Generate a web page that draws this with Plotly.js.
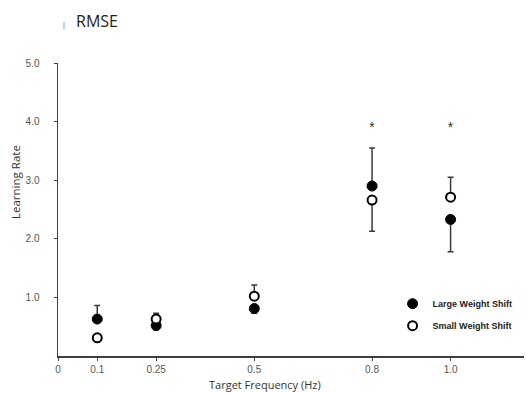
<!DOCTYPE html>
<html>
<head>
<meta charset="utf-8">
<script src="https://cdn.plot.ly/plotly-3.0.1.min.js"></script>
<style>html,body{margin:0;padding:0;background:#fff;}#chart{width:526px;height:393px;}</style>
</head>
<body>
<div id="chart"></div>
<script>
// Data
const freq = [0.1, 0.25, 0.5, 0.8, 1.0];
const xTickVals = [0, 0.1, 0.25, 0.5, 0.8, 1.0];
const xTickText = ['0', '0.1', '0.25', '0.5', '0.8', '1.0'];
const yTickVals = [1, 2, 3, 4, 5];
const yTickText = ['1.0', '2.0', '3.0', '4.0', '5.0'];

const largeShift = [0.63, 0.52, 0.81, 2.90, 2.33];
const largeErrUp = [0.23, 0, 0, 0.65, 0];
const largeErrDown = [0, 0.07, 0.08, 0, 0.55];

const smallShift = [0.31, 0.63, 1.02, 2.66, 2.71];
const smallErrUp = [0, 0.10, 0.19, 0, 0.34];
const smallErrDown = [0.06, 0, 0, 0.53, 0];

const sigFreq = [0.8, 1.0];
const sigLevel = [3.88, 3.88];
const sigMark = ['*', '*'];

const errStyle = {color: '#3a3a3a', thickness: 1.5, width: 3};

const traces = [
  {
    x: freq, y: largeShift, type: 'scatter', mode: 'markers',
    name: 'Large Weight Shift', legendgroup: 'a',
    marker: {color: '#000', size: 10, symbol: 'circle', line: {color: '#000', width: 1}},
    error_y: Object.assign({type: 'data', symmetric: false, array: largeErrUp, arrayminus: largeErrDown}, errStyle)
  },
  {
    x: freq, y: smallShift, type: 'scatter', mode: 'markers',
    name: 'Small Weight Shift', legendgroup: 'b',
    marker: {color: '#fff', size: 9, symbol: 'circle', line: {color: '#000', width: 2}},
    error_y: Object.assign({type: 'data', symmetric: false, array: smallErrUp, arrayminus: smallErrDown}, errStyle)
  },
  {
    x: sigFreq, y: sigLevel, type: 'scatter', mode: 'text', text: sigMark,
    textfont: {family: 'Liberation Sans, sans-serif', size: 14, color: '#333'},
    showlegend: false, hoverinfo: 'skip'
  }
];

const PW = 466, PH = 293; // plot area size in px
const layout = {
  width: 526, height: 393,
  paper_bgcolor: '#fff', plot_bgcolor: '#fff',
  margin: {l: 58, r: 2, t: 63, b: 37, autoexpand: false},
  font: {family: 'Open Sans, sans-serif', color: '#404040'},
  title: {
    text: 'RMSE', x: 76 / 526, xanchor: 'left', xref: 'container',
    y: 1 - 21 / 393, yanchor: 'middle', yref: 'container',
    font: {family: 'Open Sans, sans-serif', size: 16, color: '#222'}
  },
  xaxis: {
    range: [0, 1.187], showgrid: false, zeroline: false,
    showline: true, linecolor: '#404040', linewidth: 1.5,
    tickmode: 'array', tickvals: xTickVals, ticktext: xTickText,
    ticks: 'outside', ticklen: 3, tickcolor: '#404040', tickwidth: 1,
    tickfont: {family: 'Liberation Sans, sans-serif', size: 10, color: '#555'}
  },
  yaxis: {
    range: [0, 5], showgrid: false, zeroline: false,
    showline: true, linecolor: '#404040', linewidth: 1.5,
    tickmode: 'array', tickvals: yTickVals, ticktext: yTickText,
    ticks: 'outside', ticklen: 3, tickcolor: '#404040', tickwidth: 1,
    ticklabelstandoff: 12,
    tickfont: {family: 'Liberation Sans, sans-serif', size: 10, color: '#555'}
  },
  showlegend: true,
  legend: {
    x: 0.718, y: 0.228, xanchor: 'left', yanchor: 'top',
    bgcolor: 'rgba(0,0,0,0)', borderwidth: 0, traceorder: 'grouped',
    font: {family: 'Liberation Sans, sans-serif', size: 9, color: '#222', weight: 'bold'},
    itemwidth: 30, tracegroupgap: 3
  },
  annotations: [
    {text: '|', xref: 'paper', yref: 'paper', x: 0.004, y: 1 + 45 / PH,
      showarrow: false, font: {size: 7, color: '#333'}},
    {text: 'Learning Rate', xref: 'paper', yref: 'paper',
      x: (15 - 58) / PW, y: (356 - 182) / PH, xanchor: 'center', yanchor: 'middle',
      textangle: -90, showarrow: false,
      font: {family: 'Open Sans, sans-serif', size: 11.5, color: '#333'}},
    {text: 'Target Frequency (Hz)', xref: 'paper', yref: 'paper',
      x: (265 - 58) / PW, y: (356 - 384) / PH, xanchor: 'center', yanchor: 'middle',
      showarrow: false,
      font: {family: 'Open Sans, sans-serif', size: 11, color: '#333'}}
  ]
};

Plotly.newPlot('chart', traces, layout, {displayModeBar: false, staticPlot: true});
</script>
</body>
</html>
